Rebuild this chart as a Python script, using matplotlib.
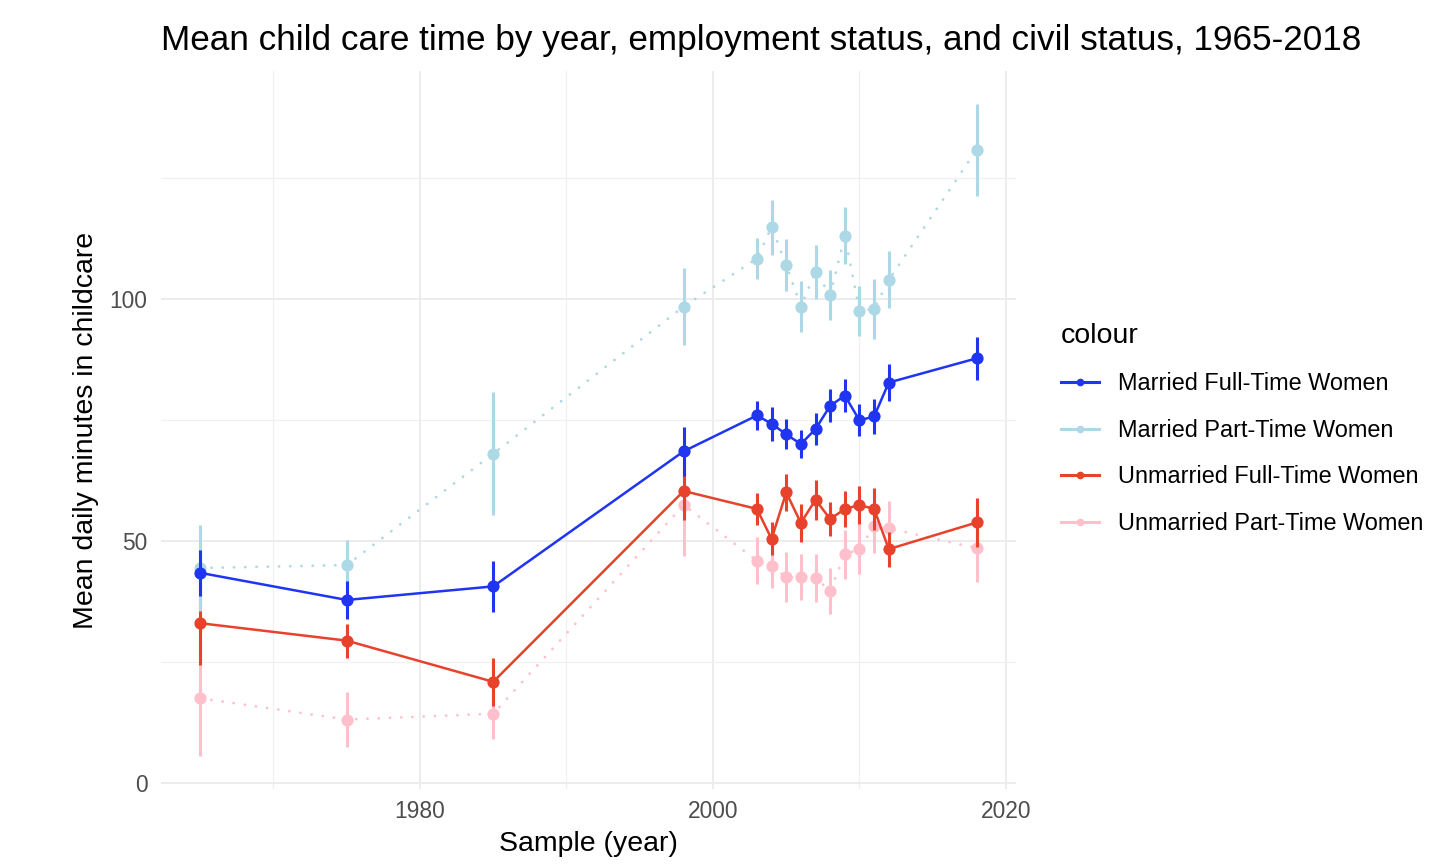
import matplotlib
matplotlib.use("Agg")
import matplotlib.pyplot as plt
from matplotlib.lines import Line2D
from matplotlib.ticker import MultipleLocator

plt.rcParams['font.family'] = ['Liberation Sans', 'DejaVu Sans']

# Survey years
years = [1965, 1975, 1985, 1998, 2003, 2004, 2005, 2006, 2007,
         2008, 2009, 2010, 2011, 2012, 2018]

# Mean daily minutes of child care and half-width of the interval
married_ft = [43.4, 37.8, 40.6, 68.5, 75.9, 74.2, 72.0, 70.0, 73.1,
              77.9, 80.0, 74.9, 75.7, 82.7, 87.7]
married_ft_ci = [4.7, 4.0, 5.3, 5.0, 2.9, 3.5, 3.1, 2.9, 3.4,
                 3.4, 3.4, 3.3, 3.6, 3.9, 4.5]

married_pt = [44.4, 45.0, 68.0, 98.4, 108.3, 114.8, 107.0, 98.4, 105.6,
              100.8, 113.0, 97.5, 97.9, 103.9, 130.8]
married_pt_ci = [8.8, 5.2, 12.7, 7.9, 4.2, 5.7, 5.4, 5.3, 5.6,
                 5.2, 5.9, 5.2, 6.2, 5.9, 9.5]

unmarried_ft = [33.0, 29.4, 20.9, 60.3, 56.6, 50.4, 60.0, 53.7, 58.5,
                54.5, 56.6, 57.4, 56.6, 48.3, 53.8]
unmarried_ft_ci = [8.6, 3.5, 5.0, 6.0, 3.3, 3.4, 3.8, 3.9, 4.1,
                   3.5, 3.8, 3.9, 4.3, 3.6, 5.0]

unmarried_pt = [17.5, 13.1, 14.3, 57.4, 45.9, 44.8, 42.5, 42.5, 42.3,
                39.7, 47.2, 48.3, 53.1, 52.6, 48.5]
unmarried_pt_ci = [12.0, 5.7, 5.3, 10.6, 4.8, 4.6, 5.2, 4.8, 5.0,
                   4.8, 5.0, 5.2, 5.6, 5.6, 7.0]

labels = ["Married Full-Time Women", "Married Part-Time Women",
          "Unmarried Full-Time Women", "Unmarried Part-Time Women"]
colors = ["#1f35f2", "#add8e6", "#e8412c", "#ffc0cb"]
dotted = (0, (0.05, 4.0))

fig = plt.figure(figsize=(14.53, 8.65), dpi=100)
fig.patch.set_facecolor("white")
W, H = 1453, 865
ax = fig.add_axes([161.4 / W, (H - 789) / H, 854.1 / W, 718 / H])

series = [
    (married_ft, married_ft_ci, colors[0], "-", 8),
    (married_pt, married_pt_ci, colors[1], dotted, 6),
    (unmarried_ft, unmarried_ft_ci, colors[2], "-", 4),
    (unmarried_pt, unmarried_pt_ci, colors[3], dotted, 2),
]

for vals, ci, col, ls, z in series:
    if ls == "-":
        ax.plot(years, vals, color=col, lw=1.8, ls=ls, zorder=z,
                solid_capstyle="round")
    else:
        ax.plot(years, vals, color=col, lw=2.0, ls=ls, zorder=z,
                dash_capstyle="round")
    ax.errorbar(years, vals, yerr=ci, fmt="none", ecolor=col,
                elinewidth=2.2, capsize=0, zorder=z + 0.5)
    ax.plot(years, vals, "o", color=col, ms=8.8, mew=0, zorder=z + 0.7)

ax.margins(x=0.05, y=0.05)

# Minimal theme: light grid, no spines, no tick marks
for s in ax.spines.values():
    s.set_visible(False)
ax.xaxis.set_major_locator(MultipleLocator(20))
ax.xaxis.set_minor_locator(MultipleLocator(10))
ax.yaxis.set_major_locator(MultipleLocator(50))
ax.yaxis.set_minor_locator(MultipleLocator(25))
ax.grid(which="major", color="#ebebeb", lw=1.3, zorder=0)
ax.grid(which="minor", color="#f0f0f0", lw=0.9, zorder=0)
ax.set_axisbelow(True)
ax.tick_params(which="both", length=0)
ax.tick_params(axis="x", labelsize=16.4, labelcolor="#4d4d4d", pad=8)
ax.tick_params(axis="y", labelsize=16.4, labelcolor="#4d4d4d", pad=10)

ax.set_xlabel("Sample (year)", fontsize=20.5, labelpad=6)
ax.set_ylabel("Mean daily minutes in childcare", fontsize=20.5, labelpad=8)

fig.text(161.4 / W, 1 - 50 / H, "Mean child care time by year, employment status, and civil status, 1965-2018",
         fontsize=25.3, ha="left", va="baseline")

handles = [Line2D([], [], color=c, lw=2.2, marker="o", ms=4.5) for c in colors]
leg = ax.legend(handles, labels, loc="upper left",
                bbox_to_anchor=(1061 / W, 1 - 323 / H), bbox_transform=fig.transFigure,
                frameon=False, borderpad=0, borderaxespad=0,
                handlelength=1.6, handletextpad=0.83, labelspacing=1.0,
                title="colour", title_fontsize=20.5, fontsize=16.9,
                alignment="left")

fig.savefig("out.png", dpi=100, facecolor="white")
